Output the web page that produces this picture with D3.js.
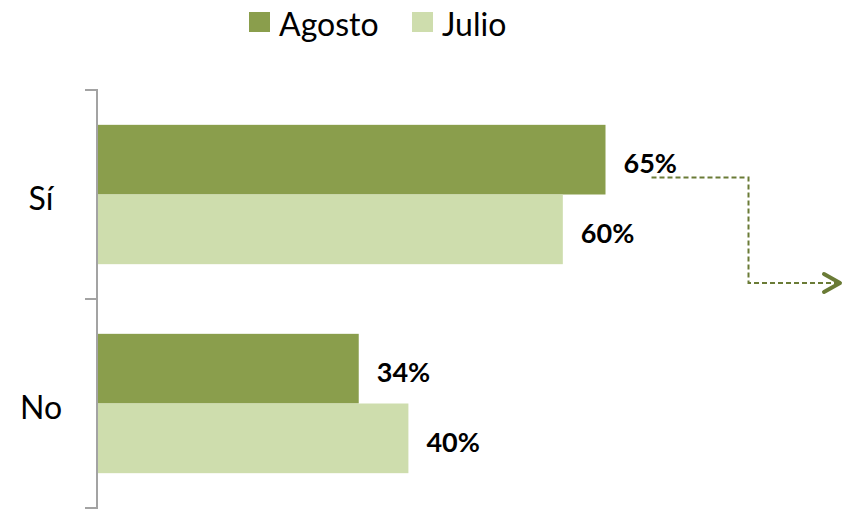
<!DOCTYPE html>
<html>
<head>
<meta charset="utf-8">
<script src="https://cdn.jsdelivr.net/npm/d3@7/dist/d3.min.js"></script>
<style>
  html, body { margin: 0; padding: 0; background: #ffffff; }
  svg { display: block; }
</style>
</head>
<body>
<svg id="chart" width="844" height="510"></svg>
<script>
const categories = ["Sí", "No"];
const seriesNames = ["Agosto", "Julio"];
const agostoValues = [65.4, 33.6];
const julioValues = [59.9, 40.0];
const colors = ["#8A9E4C", "#CEDDAD"];

const svg = d3.select("#chart");
const W = 844, H = 510;

const y = d3.scaleBand().domain(categories).range([90, 508]).padding(0);
const ySub = d3.scaleBand().domain(seriesNames).range([0, y.bandwidth()]).paddingInner(0).paddingOuter(0.5);
const x = d3.scaleLinear().domain([0, 100]).range([98, 874]);

const data = [];
categories.forEach((c, i) => {
  data.push({cat: c, series: "Agosto", value: agostoValues[i], color: colors[0]});
  data.push({cat: c, series: "Julio", value: julioValues[i], color: colors[1]});
});

// bars
svg.append("g").selectAll("rect").data(data).join("rect")
  .attr("x", x(0))
  .attr("y", d => y(d.cat) + ySub(d.series))
  .attr("width", d => x(d.value) - x(0))
  .attr("height", ySub.bandwidth())
  .attr("fill", d => d.color);

// value labels
const fmt = v => Math.round(v) + "%";
svg.append("g").selectAll("text").data(data).join("text")
  .attr("x", d => x(d.value) + 18)
  .attr("y", d => y(d.cat) + ySub(d.series) + ySub.bandwidth() / 2 + 3)
  .attr("dominant-baseline", "central")
  .attr("font-family", "Lato, 'Open Sans', sans-serif")
  .attr("font-weight", "bold")
  .attr("font-size", 27)
  .attr("fill", "#000")
  .text(d => fmt(d.value));

// axis line with ticks at band boundaries
const axisG = svg.append("g");
const [y0, y1] = y.range();
axisG.append("line")
  .attr("x1", 97).attr("x2", 97).attr("y1", y0).attr("y2", y1)
  .attr("stroke", "#A3A3A3").attr("stroke-width", 2);
const boundaries = categories.map(c => y(c)).concat([y1]);
axisG.selectAll("line.tick").data(boundaries).join("line")
  .attr("class", "tick")
  .attr("x1", 85).attr("x2", 98)
  .attr("y1", d => d).attr("y2", d => d)
  .attr("stroke", "#A3A3A3").attr("stroke-width", 2);

// category labels
axisG.selectAll("text").data(categories).join("text")
  .attr("x", 41)
  .attr("y", d => y(d) + y.bandwidth() / 2 + 3)
  .attr("text-anchor", "middle")
  .attr("dominant-baseline", "central")
  .attr("font-family", "Lato, 'Open Sans', sans-serif")
  .attr("font-size", 32)
  .attr("fill", "#000")
  .text(d => d);

// legend
const legendX = [249, 412];
const lg = svg.append("g");
seriesNames.forEach((s, i) => {
  lg.append("rect")
    .attr("x", legendX[i]).attr("y", 12)
    .attr("width", 21).attr("height", 20)
    .attr("fill", colors[i]);
  lg.append("text")
    .attr("x", legendX[i] + 30).attr("y", 36)
    .attr("font-family", "Lato, 'Open Sans', sans-serif")
    .attr("font-size", 32)
    .attr("fill", "#000")
    .text(s);
});

// dashed arrow annotation
const arrowColor = "#6A7B36";
const sx = x(agostoValues[0]) + 46;
const sy = y("Sí") + ySub("Agosto") + ySub.bandwidth() - 17;
const cx = x(agostoValues[0]) + 143;
const ey = y("No") - 16;
const ex = 838;
svg.append("path")
  .attr("d", `M${sx},${sy} H${cx} V${ey} H${ex}`)
  .attr("fill", "none")
  .attr("stroke", arrowColor)
  .attr("stroke-width", 2)
  .attr("stroke-dasharray", "5,3");
svg.append("path")
  .attr("d", `M${ex - 14},${ey - 9} L${ex + 2},${ey} L${ex - 14},${ey + 9}`)
  .attr("fill", "none")
  .attr("stroke", arrowColor)
  .attr("stroke-width", 4)
  .attr("stroke-linecap", "round")
  .attr("stroke-linejoin", "round");
</script>
</body>
</html>
